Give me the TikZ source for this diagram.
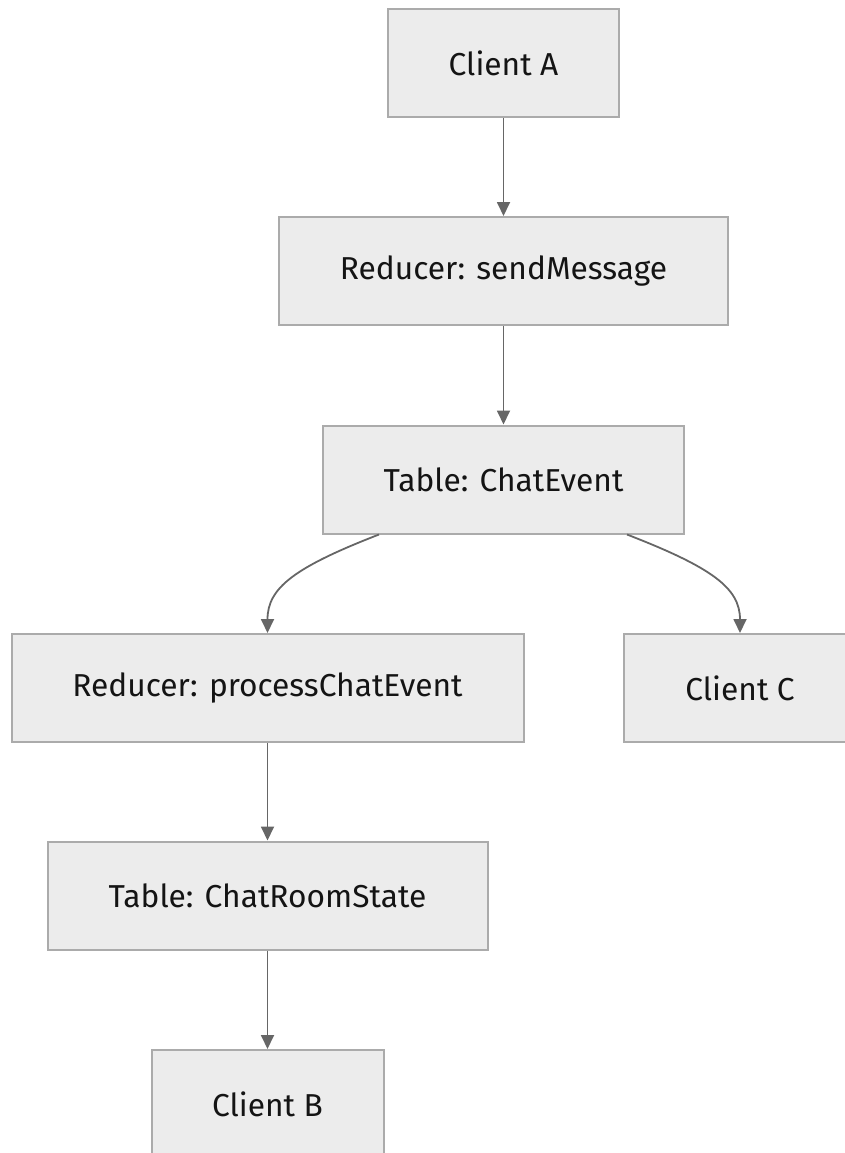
\documentclass[tikz,border=0pt]{standalone}
\usepackage{fontspec}
\setmainfont{Fira Sans}
\usetikzlibrary{arrows.meta}
\definecolor{boxfill}{HTML}{ECECEC}
\definecolor{boxline}{HTML}{ABABAB}
\definecolor{edgecol}{HTML}{666666}
\tikzset{
  box/.style={draw=boxline, fill=boxfill, line width=2pt, minimum height=108pt,
    inner sep=0pt, font=\fontsize{31.7}{38}\selectfont, text=black!92},
  flow/.style={draw=edgecol, line width=1.8pt,
    -{Triangle[length=14pt,width=13pt]}}
}
\begin{document}
\begin{tikzpicture}[x=1pt,y=-1pt]
\useasboundingbox (0,0) rectangle (845,1153);
\clip (0,0) rectangle (845,1153);
\node[box, minimum width=231pt] (ca)   at (503.5,63)   {Client A};
\node[box, minimum width=449pt] (send) at (503.5,271) {Reducer: sendMessage};
\node[box, minimum width=361pt] (ce)   at (503.5,479.5) {Table: ChatEvent};
\node[box, minimum width=512pt] (proc) at (267.5,688)  {Reducer: processChatEvent};
\node[box, minimum width=232pt] (cc)   at (740,688)  {Client C};
\node[box, minimum width=440pt] (crs)  at (267.5,895.5) {Table: ChatRoomState};
\node[box, minimum width=232pt] (cb)   at (267.5,1104) {Client B};
\draw[flow] (ca) -- (send);
\draw[flow] (send) -- (ce);
\draw[flow] ([xshift=57pt]ce.south west) .. controls +(-85,33) and +(0,-45) .. (proc.north);
\draw[flow] ([xshift=-58pt]ce.south east) .. controls +(85,33) and +(0,-45) .. (cc.north);
\draw[flow] (proc) -- (crs);
\draw[flow] (crs) -- (cb);
\end{tikzpicture}
\end{document}
